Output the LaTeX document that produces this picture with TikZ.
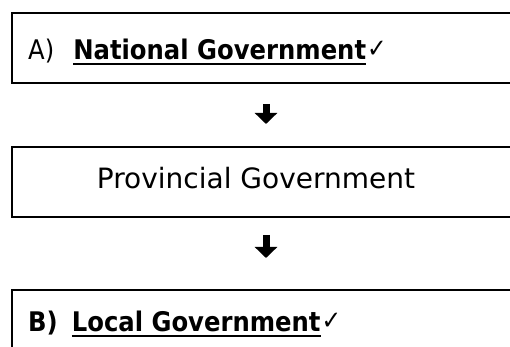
\documentclass[tikz,border=0pt]{standalone}
\usepackage{fontspec}
\setmainfont{DejaVu Sans}
\newfontfamily\narrowsans[FakeStretch=0.9]{DejaVu Sans}
\usetikzlibrary{arrows.meta}
\newsavebox\ulsavebox
\newcommand\myul[1]{\sbox\ulsavebox{#1}\rlap{\raisebox{-5.5pt}{\rule{\wd\ulsavebox}{2.6pt}}}\usebox\ulsavebox}
\newcommand\tickmark{\hspace{1pt}\raisebox{2pt}{\fontsize{26}{28}\selectfont\mdseries ✓}}
\begin{document}
\begin{tikzpicture}[x=1pt,y=1pt,
  govbox/.style={draw, line width=2pt, minimum width=520pt, minimum height=70pt, anchor=north west, inner sep=0pt},
  govtext/.style={anchor=base west, inner sep=0pt, font=\narrowsans\fontsize{27}{30}\selectfont},
  downarrow/.style={line width=7pt, -{Triangle[width=22pt,length=11pt]}}]
\useasboundingbox (0,0) rectangle (510,347);
\clip (0,0) rectangle (510,347);
\node[govbox] (b1) at (11,335) {};
\node[govbox] (b2) at (11,201) {};
\node[govbox] (b3) at (11,58) {};
\node[govtext] (t1) at (28,287) {A)\hspace{19pt}\textbf{\myul{National Government}}\tickmark};
\node[govtext, anchor=base, font=\fontsize{28}{32}\selectfont] (t2) at (256,158) {Provincial Government};
\node[govtext] (t3) at (28,15) {\textbf{B)\hspace{14pt}\myul{Local Government}}\tickmark};
\coordinate (ax) at (266,0);
\draw[downarrow, shorten <=20pt, shorten >=22pt] (b1.south -| ax) -- (b2.north -| ax);
\draw[downarrow, shorten <=17pt, shorten >=31pt] (b2.south -| ax) -- (b3.north -| ax);
\end{tikzpicture}
\end{document}
